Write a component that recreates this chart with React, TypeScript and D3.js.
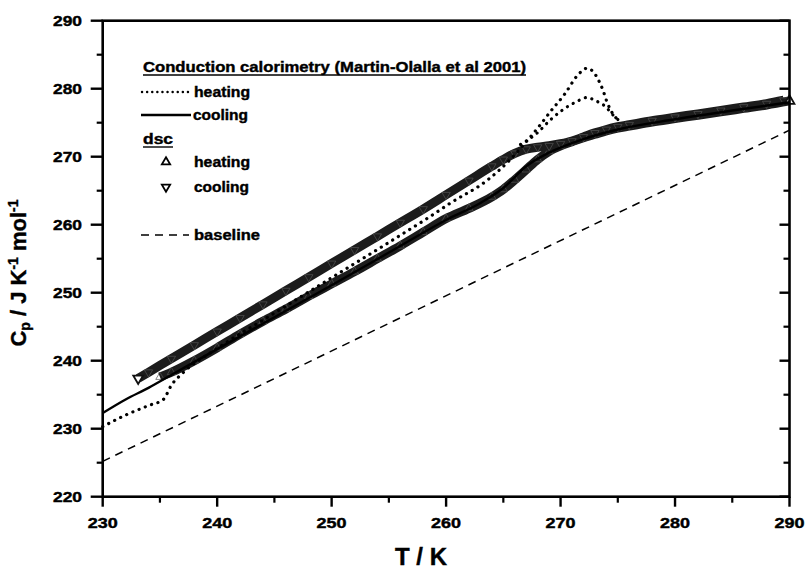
import React from "react";
import * as d3 from "d3";

// Cp of the sample: [T / K, Cp / J K-1 mol-1]
const xTicks = [230, 240, 250, 260, 270, 280, 290];
const yTicks = [220, 230, 240, 250, 260, 270, 280, 290];
const xMinor = [235, 245, 255, 265, 275, 285];
const yMinor = [225, 235, 245, 255, 265, 275, 285];

// conduction calorimetry, heating (dotted), two runs near the peak
const condHeating = [
  [230, 230.3], [232, 232.0], [234, 233.4], [235.3, 234.3], [236, 236.4], [237, 238.2],
  [240, 241.8], [245, 247.0], [250, 252.2], [255, 257.4], [258.6, 261.2], [260.3, 263.1],
  [263.8, 266.8], [265.5, 269.4], [267, 272.2], [268, 274.2], [269.1, 276.6], [270.4, 279.3],
  [271.5, 282.0], [272.3, 283.0], [272.8, 282.6], [273.3, 281.3], [273.7, 279.8],
  [274.0, 278.3], [274.3, 277.1], [274.9, 275.6],
];
const condHeating2 = [
  [266.5, 271.8], [267.9, 273.4], [269.1, 275.4], [270.2, 276.9], [271.4, 278.1],
  [272.3, 278.7], [273.1, 278.2], [273.9, 277.4], [274.6, 276.1], [275.2, 275.2],
];
// conduction calorimetry, cooling (solid)
const condCooling = [
  [230, 232.3], [232, 234.3], [234, 236.0], [236, 237.9], [240, 241.7], [245, 246.4],
  [250, 251.1], [255, 255.9], [260, 260.7], [263, 263.2], [265, 265.4], [267, 268.6],
  [269, 270.6], [272, 272.6], [275, 274.0], [280, 275.5], [285, 276.8], [290, 278.0],
];
// dsc heating (up triangles)
const dscHeating = [
  [235.0, 237.6], [236, 238.3], [238, 240.0], [240, 241.9], [242, 243.9], [244, 245.8],
  [246, 247.6], [248, 249.5], [250, 251.3], [252, 253.1], [254, 255.0], [256, 256.9],
  [258, 258.9], [260, 260.9], [262, 262.4], [264, 264.1], [265, 265.2], [266, 266.6],
  [267, 268.1], [268, 269.6], [269, 270.8], [270, 271.6], [271, 272.2], [272, 272.8],
  [273, 273.3], [274, 273.8], [275, 274.2], [276, 274.5], [278, 275.1], [280, 275.6],
  [282, 276.1], [284, 276.6], [286, 277.1], [288, 277.6], [290, 278.2],
];
// dsc cooling (down triangles)
const dscCooling = [
  [233.1, 237.4], [234, 238.3], [236, 240.3], [238, 242.3], [240, 244.3], [242, 246.3],
  [244, 248.3], [246, 250.3], [248, 252.3], [250, 254.3], [252, 256.3], [254, 258.3],
  [256, 260.3], [258, 262.3], [260, 264.4], [262, 266.5], [264, 268.6], [265, 269.6],
  [266, 270.5], [267, 271.1], [268, 271.4], [269, 271.6], [270, 271.9], [271, 272.3],
  [272, 272.9], [273, 273.5], [274, 274.0], [275, 274.4], [276, 274.7], [278, 275.3],
  [280, 275.8], [282, 276.3], [284, 276.8], [286, 277.3], [288, 277.8], [289.5, 278.3],
];
const baseline = [[230, 225.2], [290, 273.9]];

const FONT = "'Liberation Sans', Arial, Helvetica, sans-serif";

export default function App() {
  const x = d3.scaleLinear().domain([230, 290]).range([102.7, 789.5]);
  const y = d3.scaleLinear().domain([220, 290]).range([496.7, 20.7]);

  const line = d3
    .line<number[]>()
    .x((d) => x(d[0]))
    .y((d) => y(d[1]))
    .curve(d3.curveMonotoneX);

  const triUp = d3.symbol(d3.symbolTriangle, 30)()!;
  const triBig = d3.symbol(d3.symbolTriangle, 42)()!;

  const dotted = { fill: "none", stroke: "#000", strokeWidth: 3.2, strokeLinecap: "round" as const, strokeDasharray: "0.1 6.6" };
  const bold = { fontFamily: FONT, fontWeight: 700, stroke: "#000", strokeWidth: 0.4 };

  const x0 = x.range()[0], x1 = x.range()[1];
  const y0 = y.range()[0], y1 = y.range()[1];

  const band = (data: number[][], down: boolean) => (
    <g>
      <path d={line(data)!} fill="none" stroke="#1c1c1c" strokeWidth={9} strokeLinejoin="round" />
      {data.map((d, i) => (
        <path
          key={i}
          d={triUp}
          transform={`translate(${x(d[0])},${y(d[1])})${down ? " rotate(180)" : ""}`}
          fill="none"
          stroke="#555"
          strokeWidth={0.7}
        />
      ))}
    </g>
  );

  const first = dscCooling[0];
  const last = dscHeating[dscHeating.length - 1];

  return (
    <svg width={809} height={571} style={{ position: "absolute", left: 0, top: 0, background: "#fff" }}>
      {/* baseline */}
      <path d={line(baseline)!} fill="none" stroke="#000" strokeWidth={1.5} strokeDasharray="8 6" />

      {/* dsc bands */}
      {band(dscHeating, false)}
      {band(dscCooling, true)}
      <path d={triBig} transform={`translate(${x(first[0])},${y(first[1])}) rotate(180)`} fill="#fff" stroke="#111" strokeWidth={1.8} />
      <path d={triBig} transform={`translate(${x(last[0])},${y(last[1])})`} fill="#fff" stroke="#111" strokeWidth={1.8} />

      {/* conduction calorimetry */}
      <path d={line(condCooling)!} fill="none" stroke="#000" strokeWidth={2.4} />
      <path d={line(condHeating)!} {...dotted} />
      <path d={line(condHeating2)!} {...dotted} />

      {/* frame */}
      <rect x={x0} y={y1} width={x1 - x0} height={y0 - y1} fill="none" stroke="#000" strokeWidth={2.6} />

      {/* left + right ticks */}
      {yTicks.map((t) => (
        <g key={t}>
          <line x1={x0 - 12} x2={x0} y1={y(t)} y2={y(t)} stroke="#000" strokeWidth={2.4} />
          <line x1={x1 - 10} x2={x1} y1={y(t)} y2={y(t)} stroke="#000" strokeWidth={2.4} />
          <text x={82} y={y(t)} dy="0.36em" textAnchor="end" fontSize={14} textLength={29} lengthAdjust="spacingAndGlyphs" {...bold}>
            {t}
          </text>
        </g>
      ))}
      {yMinor.map((t) => (
        <g key={t}>
          <line x1={x0 - 6} x2={x0} y1={y(t)} y2={y(t)} stroke="#000" strokeWidth={2.2} />
          <line x1={x1 - 6} x2={x1} y1={y(t)} y2={y(t)} stroke="#000" strokeWidth={2.2} />
        </g>
      ))}

      {/* bottom ticks */}
      {xTicks.map((t) => (
        <g key={t}>
          <line x1={x(t)} x2={x(t)} y1={y0} y2={y0 + 10} stroke="#000" strokeWidth={2.4} />
          <text x={x(t)} y={528} textAnchor="middle" fontSize={14} textLength={30} lengthAdjust="spacingAndGlyphs" {...bold}>
            {t}
          </text>
        </g>
      ))}
      {xMinor.map((t) => (
        <line key={t} x1={x(t)} x2={x(t)} y1={y0} y2={y0 + 6} stroke="#000" strokeWidth={2.2} />
      ))}

      {/* axis titles */}
      <text x={421} y={565} textAnchor="middle" fontSize={23} textLength={52} lengthAdjust="spacingAndGlyphs" {...bold}>
        T / K
      </text>
      <text transform="translate(26,273) rotate(-90)" textAnchor="middle" fontSize={22} {...bold}>
        C<tspan dy={4} fontSize={14}>p</tspan>
        <tspan dy={-4}> / J K</tspan>
        <tspan dy={-8} fontSize={14}>-1</tspan>
        <tspan dy={8}> mol</tspan>
        <tspan dy={-8} fontSize={14}>-1</tspan>
      </text>

      {/* legend */}
      <g fontSize={14}>
        <text x={143} y={72} textLength={383} lengthAdjust="spacingAndGlyphs" {...bold}>
          Conduction calorimetry (Martin-Olalla et al 2001)
        </text>
        <line x1={143} x2={143 + 383} y1={75} y2={75} stroke="#000" strokeWidth={1.4} />

        <line x1={142} x2={190} y1={92} y2={92} {...dotted} strokeWidth={2.4} strokeDasharray="0.1 5" />
        <text x={194} y={97} textLength={56} lengthAdjust="spacingAndGlyphs" {...bold}>heating</text>

        <line x1={141} x2={191} y1={115} y2={115} stroke="#000" strokeWidth={2.4} />
        <text x={193} y={120} textLength={55} lengthAdjust="spacingAndGlyphs" {...bold}>cooling</text>

        <text x={143} y={144} textLength={30} lengthAdjust="spacingAndGlyphs" {...bold}>dsc</text>
        <line x1={143} x2={173} y1={147} y2={147} stroke="#000" strokeWidth={1.4} />

        <path d={triUp} transform="translate(166,162)" fill="#fff" stroke="#000" strokeWidth={1.8} />
        <text x={194} y={167} textLength={56} lengthAdjust="spacingAndGlyphs" {...bold}>heating</text>

        <path d={triUp} transform="translate(166,187) rotate(180)" fill="#fff" stroke="#000" strokeWidth={1.8} />
        <text x={194} y={192} textLength={55} lengthAdjust="spacingAndGlyphs" {...bold}>cooling</text>

        <line x1={141} x2={189} y1={235} y2={235} stroke="#000" strokeWidth={1.5} strokeDasharray="8 6" />
        <text x={194} y={240} textLength={66} lengthAdjust="spacingAndGlyphs" {...bold}>baseline</text>
      </g>
    </svg>
  );
}
